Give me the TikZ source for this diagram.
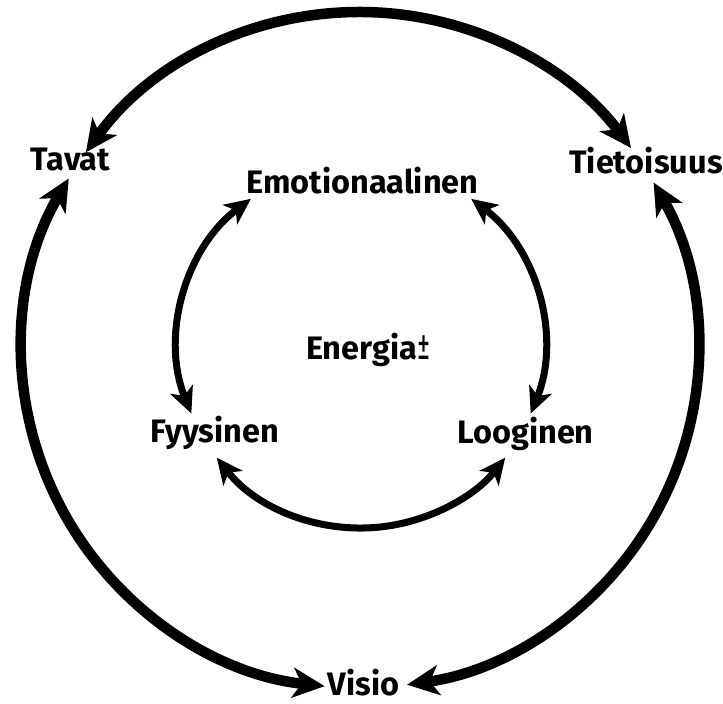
\documentclass[tikz,border=0pt]{standalone}
\usepackage{fontspec}
\usepackage{graphicx}
\setmainfont{Fira Sans}
\usetikzlibrary{arrows.meta}

\begin{document}
\begin{tikzpicture}[x=1pt, y=1pt,
  lbl/.style={font=\bfseries\fontsize{32.5}{32.5}\selectfont, anchor=base, inner sep=0pt},
  bigtip/.tip={Stealth[length=32pt, width=30pt, inset=9pt]},
  smalltip/.tip={Stealth[length=26pt, width=24pt, inset=7pt]},
  outerarc/.style={line width=10.5pt, bigtip-bigtip},
  innerarc/.style={line width=7pt, smalltip-smalltip}]
\useasboundingbox (0,0) rectangle (723,704);

% outer ring labels
\node[lbl] (tavat)      at (70.5,533) {Tavat};
\node[lbl] (tietoisuus) at (646,530)  {Tietoisuus};
\node[lbl] (visio)      at (363.5,8)  {Visio};

% inner ring labels
\node[lbl] (emo)      at (362.5,510) {Emotionaalinen};
\node[lbl] (fyysinen) at (215,261)   {Fyysinen};
\node[lbl] (looginen) at (525.5,260) {Looginen};
\node[lbl] (energia)  at (368.5,344)
  {Energia\hspace{1pt}\raisebox{0pt}{\fontseries{l}\selectfont\scalebox{0.8}[1.35]{±}}};

% ring centres
\coordinate (oc) at (360,354);
\coordinate (ic) at (361,359);

% arrow tips on the outer ring
\coordinate (oTa) at ([shift={(144.2:338)}]oc);
\coordinate (oTb) at ([shift={(149.5:338)}]oc);
\coordinate (oKa) at ([shift={(29.7:338)}]oc);

% arrow tips on the inner ring
\coordinate (iEa) at ([shift={(127:183)}]ic);
\coordinate (iEb) at ([shift={(53:183)}]ic);
\coordinate (iFb) at ([shift={(218:183)}]ic);

% outer connectors
\draw[outerarc] (oTa) arc[start angle=144.2, end angle=36.7, radius=338pt];
\draw[outerarc] (oTb) arc[start angle=149.5, end angle=264, radius=338pt];
\draw[outerarc] (oKa) arc[start angle=29.7, end angle=-82, radius=338pt];

% inner connectors
\draw[innerarc] (iEa) arc[start angle=127, end angle=202, radius=183pt];
\draw[innerarc] (iEb) arc[start angle=53, end angle=-22, radius=183pt];
\draw[innerarc] (iFb) arc[start angle=218, end angle=322, radius=183pt];
\end{tikzpicture}
\end{document}
